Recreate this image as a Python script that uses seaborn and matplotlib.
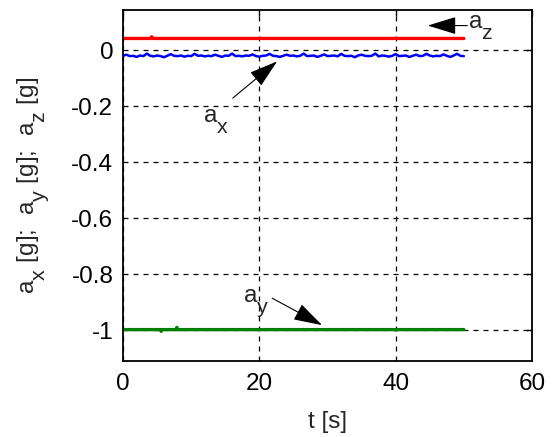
import numpy as np
import pandas as pd
import matplotlib
matplotlib.use("Agg")
import matplotlib.pyplot as plt
import matplotlib._mathtext as mt
import seaborn as sns

# values
t_z = [0, 4.0, 4.2, 4.4, 50]
a_z = [0.042, 0.042, 0.048, 0.042, 0.042]

t_x = [0, 0.5, 1, 1.5, 2, 2.5, 3, 3.5, 4, 4.5, 5, 5.5, 6, 6.5, 7, 7.5, 8, 8.5, 9, 9.5,
       10, 10.5, 11, 11.5, 12, 12.5, 13, 13.5, 14, 14.5, 15, 15.5, 16, 16.5, 17, 17.5,
       18, 18.5, 19, 19.5, 20, 20.5, 21, 21.5, 22, 22.5, 23, 23.5, 24, 24.5, 25, 25.5,
       26, 26.5, 27, 27.5, 28, 28.5, 29, 29.5, 30, 30.5, 31, 31.5, 32, 32.5, 33, 33.5,
       34, 34.5, 35, 35.5, 36, 36.5, 37, 37.5, 38, 38.5, 39, 39.5, 40, 40.5, 41, 41.5,
       42, 42.5, 43, 43.5, 44, 44.5, 45, 45.5, 46, 46.5, 47, 47.5, 48, 48.5, 49, 49.5, 50]
a_x = [-0.020, -0.016, -0.021, -0.020, -0.024, -0.019, -0.021, -0.012, -0.020, -0.022,
       -0.019, -0.021, -0.025, -0.020, -0.014, -0.020, -0.021, -0.019, -0.023, -0.020,
       -0.021, -0.013, -0.020, -0.019, -0.022, -0.020, -0.021, -0.016, -0.020, -0.024,
       -0.019, -0.020, -0.012, -0.021, -0.020, -0.022, -0.019, -0.020, -0.015, -0.021,
       -0.023, -0.020, -0.019, -0.013, -0.020, -0.021, -0.024, -0.020, -0.016, -0.020,
       -0.019, -0.022, -0.020, -0.012, -0.021, -0.020, -0.019, -0.024, -0.020, -0.015,
       -0.021, -0.020, -0.019, -0.022, -0.013, -0.020, -0.021, -0.020, -0.025, -0.019,
       -0.016, -0.020, -0.021, -0.020, -0.012, -0.022, -0.019, -0.020, -0.023, -0.020,
       -0.014, -0.021, -0.020, -0.019, -0.024, -0.020, -0.016, -0.021, -0.020, -0.013,
       -0.019, -0.022, -0.020, -0.021, -0.015, -0.020, -0.024, -0.019, -0.013, -0.020,
       -0.021]

t_y = [0, 5.5, 5.6, 5.7, 7.8, 7.9, 8.0, 50]
a_y = [-0.998, -0.998, -1.004, -0.998, -0.998, -0.99, -0.998, -0.998]

x_ticks = [0, 20, 40, 60]
y_ticks = [-1, -0.8, -0.6, -0.4, -0.2, 0]
y_labels = ["-1", "-0.8", "-0.6", "-0.4", "-0.2", "0"]

sns.set_style("white")
plt.rcParams["font.family"] = ["Liberation Sans", "DejaVu Sans"]
plt.rcParams["mathtext.fontset"] = "custom"
plt.rcParams["mathtext.rm"] = "Liberation Sans"
plt.rcParams["mathtext.it"] = "Liberation Sans"

# MATLAB-like subscripts: nearly full size and dropped well below the baseline
mt.SHRINK_FACTOR = 0.88
mt.FontConstantsBase.subdrop = 0.9
mt.FontConstantsBase.sub1 = 0.9

fs = 17.5
fig = plt.figure(figsize=(5.55, 4.37), dpi=100)
ax = fig.add_axes([0.2216, 0.174, 0.7370, 0.804])

sns.lineplot(x=t_z, y=a_z, color="#ff0000", lw=2.4, ax=ax, estimator=None, sort=False)
sns.lineplot(x=t_x, y=a_x, color="#0000ff", lw=1.8, ax=ax, estimator=None, sort=False)
sns.lineplot(x=t_y, y=a_y, color="#008000", lw=2.4, ax=ax, estimator=None, sort=False)

ax.set_xlim(0, 60)
ax.set_ylim(-1.11, 0.145)
ax.set_xticks(x_ticks)
ax.set_yticks(y_ticks)
ax.set_yticklabels(y_labels)
ax.grid(True, color="black", linestyle=(0, (4, 4)), lw=0.9)
ax.tick_params(direction="in", length=4, width=1, labelsize=fs, top=True, right=True,
               colors="black")
ax.tick_params(axis="x", pad=9)
ax.tick_params(axis="y", pad=7)
for s in ax.spines.values():
    s.set_color("black")
    s.set_linewidth(1.3)

ax.set_xlabel("t [s]", fontsize=fs, labelpad=11)
ax.set_ylabel(r"a$_{\rm x}$ [g];  a$_{\rm y}$ [g];  a$_{\rm z}$ [g]", fontsize=fs, labelpad=14)

arrow = dict(arrowstyle="-|>,head_length=1.8,head_width=0.55", color="black",
             lw=0.8, shrinkA=0, shrinkB=0)
ax.annotate("", xy=(44.7, 0.088), xytext=(50.5, 0.088), arrowprops=arrow)
ax.text(50.6, 0.079, r"a$_{\rm z}$", fontsize=fs, va="baseline", ha="left")
ax.annotate("", xy=(22.6, -0.04), xytext=(16.1, -0.171), arrowprops=arrow)
ax.text(11.7, -0.257, r"a$_{\rm x}$", fontsize=fs, va="baseline", ha="left")
ax.annotate("", xy=(29.2, -0.982), xytext=(21.9, -0.886), arrowprops=arrow)
ax.text(17.6, -0.9, r"a$_{\rm y}$", fontsize=fs, va="baseline", ha="left")

fig.savefig("out.png", dpi=100)
